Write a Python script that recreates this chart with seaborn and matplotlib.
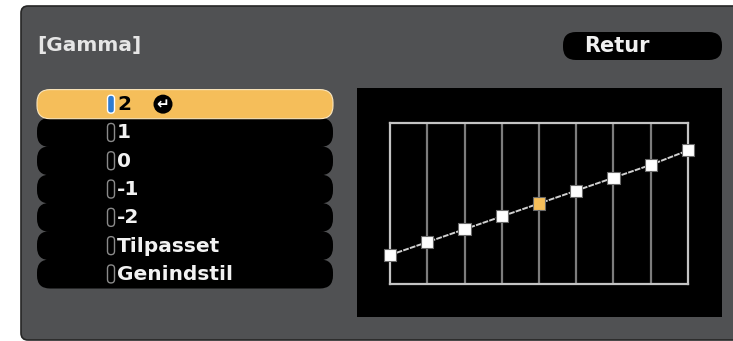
import numpy as np
import pandas as pd
import seaborn as sns
import matplotlib.pyplot as plt
from matplotlib.patches import FancyBboxPatch, Rectangle, Circle

# menu content
title = "[Gamma]"
back_label = "Retur"
menu_items = ["2", "1", "0", "-1", "-2", "Tilpasset", "Genindstil"]
selected_item = "2"

# gamma curve (9 adjustment points, output level in % of box height)
curve_steps = [0, 1, 2, 3, 4, 5, 6, 7, 8]
curve_levels = [18, 26, 34, 42, 50, 58, 66, 74, 83]
active_step = 4

W, H = 733, 341
fig = plt.figure(figsize=(W / 100, H / 100), dpi=100)
fig.patch.set_facecolor("white")

# full-figure axes in pixel units for the menu
ax0 = fig.add_axes([0, 0, 1, 1])
ax0.set_xlim(0, W)
ax0.set_ylim(H, 0)
ax0.axis("off")

ax0.add_patch(FancyBboxPatch((21, 6), 740, 334, boxstyle="round,pad=0,rounding_size=7",
                             facecolor="#505153", edgecolor="#262626", lw=1.2))

ax0.text(37, 45, title, color="#e6e6e6", fontsize=14.5, fontweight="bold",
         va="center", ha="left")

# Retur button
ax0.add_patch(FancyBboxPatch((563, 32), 159, 28, boxstyle="round,pad=0,rounding_size=13",
                             facecolor="black", edgecolor="none"))
ax0.text(584, 46.5, back_label, color="#f0f0f0", fontsize=15, fontweight="bold",
         va="center", ha="left")

# menu rows
row_top, row_h = 90, 28.3
for i, item in enumerate(menu_items):
    y0 = row_top + i * row_h
    yc = y0 + row_h / 2
    sel = item == selected_item
    ax0.add_patch(FancyBboxPatch((37, y0 - 0.4), 296, row_h + 0.8,
                                 boxstyle="round,pad=0,rounding_size=13",
                                 facecolor="#f5be5a" if sel else "black",
                                 edgecolor="#fbe6bd" if sel else "none",
                                 lw=0.8, zorder=2 if sel else 1))
    ax0.add_patch(FancyBboxPatch((107.5, yc - 9), 7, 18, boxstyle="round,pad=0,rounding_size=3.5",
                                 facecolor="#2f7bd0" if sel else "black",
                                 edgecolor="white" if sel else "#8a8a8a", lw=1.0, zorder=3))
    ax0.text(117, yc + 0.5, item, color="black" if sel else "#f2f2f2", fontsize=14.5,
             fontweight="bold", va="center", ha="left", zorder=4)
    if sel:
        ax0.add_patch(Circle((163, yc), 9.5, facecolor="black", edgecolor="none", zorder=3))
        ax0.text(163, yc + 0.5, "\u21b5", color="white", fontsize=11, fontweight="bold",
                 va="center", ha="center", zorder=4)

# chart background
ax0.add_patch(Rectangle((357, 88), 365, 229, facecolor="black", edgecolor="none"))

# chart axes placed on the grid box
bx0, bx1, by0, by1 = 390, 688, 123, 284
ax = fig.add_axes([bx0 / W, 1 - by1 / H, (bx1 - bx0) / W, (by1 - by0) / H])
ax.set_facecolor("none")
ax.set_xlim(0, 8)
ax.set_ylim(0, 100)

df = pd.DataFrame({"step": curve_steps, "level": curve_levels})
df["kind"] = ["active" if s == active_step else "point" for s in curve_steps]

for s in curve_steps[1:-1]:
    ax.axvline(s, color="#7c7c7c", lw=1.6, zorder=1)

sns.lineplot(data=df, x="step", y="level", ax=ax, color="#d0d0d0", lw=1.4,
             linestyle=(0, (3, 0.6)), zorder=2, clip_on=False)
sns.scatterplot(data=df, x="step", y="level", hue="kind", marker="s", s=75,
                palette={"point": "white", "active": "#f5be5a"}, edgecolor="#6a6a6a",
                linewidth=0.8, ax=ax, zorder=3, clip_on=False, legend=False)

for sp in ax.spines.values():
    sp.set_color("#c4c4c4")
    sp.set_linewidth(1.6)
ax.set_xticks([])
ax.set_yticks([])
ax.set_xlabel("")
ax.set_ylabel("")

fig.savefig("out.png", dpi=100, facecolor=fig.get_facecolor())
